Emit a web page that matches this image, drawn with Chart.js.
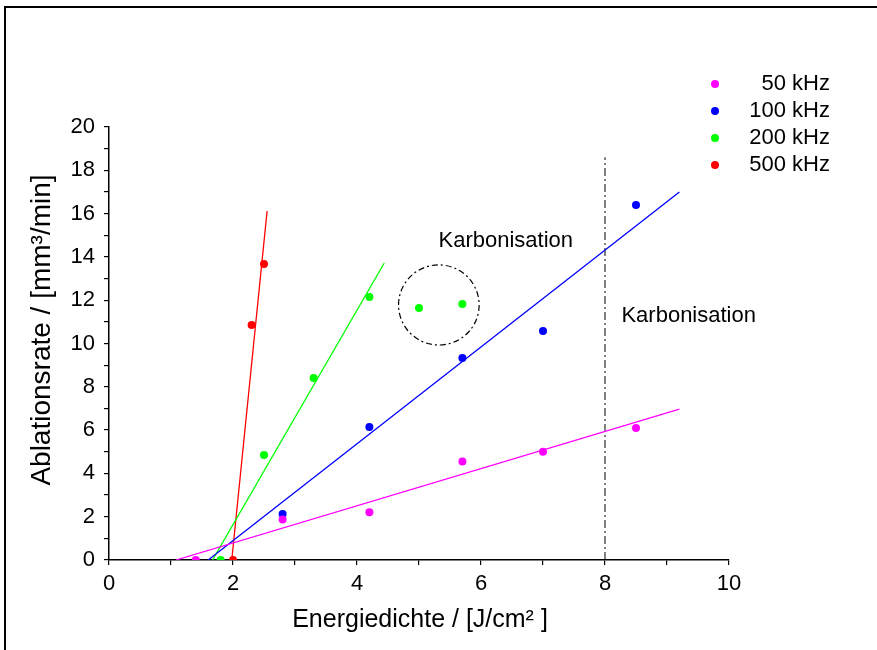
<!DOCTYPE html>
<html>
<head>
<meta charset="utf-8">
<script src="https://cdn.jsdelivr.net/npm/chart.js@4/dist/chart.umd.min.js"></script>
<style>
  html, body { margin: 0; padding: 0; background: #fff; overflow: hidden; }
  #wrap { position: relative; width: 877px; height: 650px; }
  #frame { position: absolute; left: 4px; top: 6px; width: 1000px; height: 1000px; border: 2px solid #000; box-sizing: border-box; pointer-events: none; }
  canvas { position: absolute; left: 0; top: 0; }
</style>
</head>
<body>
<div id="wrap">
  <canvas id="chart" width="877" height="650"></canvas>
  <div id="frame"></div>
</div>
<script>
// measured points, Energiedichte [J/cm2] vs Ablationsrate [mm3/min]
const series50 = [[1.4, 0], [2.8, 1.87], [4.2, 2.2], [5.7, 4.55], [7.0, 5.0], [8.5, 6.1]];
const series100 = [[2.8, 2.12], [4.2, 6.14], [5.7, 9.33], [7.0, 10.58], [8.5, 16.4]];
const series200 = [[1.8, 0], [2.5, 4.85], [3.3, 8.41], [4.2, 12.15], [5.0, 11.64], [5.7, 11.82]];
const series500 = [[2.0, 0], [2.3, 10.85], [2.5, 13.67]];

// linear fits (start / end)
const fit50 = [[1.08, 0], [9.2, 6.97]];
const fit100 = [[1.6, 0], [9.2, 17.0]];
const fit200 = [[1.67, 0], [4.44, 13.72]];
const fit500 = [[1.98, 0], [2.55, 16.12]];

const limitLine = [[8, 0], [8, 18.6]];
const circleCenter = [5.32, 11.78];
const circleRadius = [0.65, 1.85];

const legendLabels = ['50 kHz', '100 kHz', '200 kHz', '500 kHz'];
const colors = ['#ff00ff', '#0000ff', '#00ff00', '#ff0000'];
const notes = [
    { text: 'Karbonisation', x: 6.4, y: 14.73 },
    { text: 'Karbonisation', x: 9.35, y: 11.27 }
];

const xy = arr => arr.map(p => ({ x: p[0], y: p[1] }));

const pointSet = (data, color) => ({
    data: xy(data),
    showLine: false,
    pointRadius: 4,
    pointHoverRadius: 4,
    pointBackgroundColor: color,
    pointBorderWidth: 0,
    borderColor: color
});

const fitSet = (data, color) => ({
    data: xy(data),
    showLine: true,
    pointRadius: 0,
    borderColor: color,
    borderWidth: 1.3,
    fill: false
});

const FONT = 'Liberation Sans, Arial, sans-serif';

const extras = {
    id: 'extras',
    afterDraw(chart) {
        const ctx = chart.ctx;
        const xs = chart.scales.x, ys = chart.scales.y;
        ctx.save();

        // dash-dot circle around the carbonised points
        const cx = xs.getPixelForValue(circleCenter[0]);
        const cy = ys.getPixelForValue(circleCenter[1]);
        const rx = xs.getPixelForValue(circleCenter[0] + circleRadius[0]) - cx;
        const ry = cy - ys.getPixelForValue(circleCenter[1] + circleRadius[1]);
        ctx.beginPath();
        ctx.setLineDash([6, 3, 2, 3]);
        ctx.strokeStyle = '#000';
        ctx.lineWidth = 1.2;
        ctx.ellipse(cx, cy, rx, ry, 0, 0, Math.PI * 2);
        ctx.stroke();
        ctx.setLineDash([]);

        ctx.fillStyle = '#000';
        ctx.font = '22px ' + FONT;
        ctx.textAlign = 'center';
        ctx.textBaseline = 'middle';
        notes.forEach(n => {
            ctx.fillText(n.text, xs.getPixelForValue(n.x), ys.getPixelForValue(n.y));
        });

        // legend
        legendLabels.forEach((lab, i) => {
            const y = 84 + i * 27;
            ctx.beginPath();
            ctx.fillStyle = colors[i];
            ctx.arc(715, y, 4, 0, Math.PI * 2);
            ctx.fill();
            ctx.fillStyle = '#000';
            ctx.textAlign = 'right';
            ctx.fillText(lab, 830, y);
        });

        // axis titles
        ctx.textAlign = 'center';
        ctx.font = '25px ' + FONT;
        ctx.fillText('Energiedichte / [J/cm\u00B2 ]', 420, 620);
        ctx.translate(42, 330);
        ctx.rotate(-Math.PI / 2);
        ctx.font = '28px ' + FONT;
        ctx.fillText('Ablationsrate / [mm\u00B3/min]', 0, 0);
        ctx.restore();
    }
};

const axisCommon = {
    grid: { display: true, drawOnChartArea: false, drawTicks: true, tickLength: 5, color: '#000', lineWidth: 1.2 },
    border: { display: true, color: '#000', width: 1.5 },
    ticks: {
        color: '#000',
        font: { size: 22, family: FONT },
        autoSkip: false,
        stepSize: 1,
        callback: v => (v % 2 === 0 ? v : '')
    }
};

new Chart(document.getElementById('chart').getContext('2d'), {
    type: 'scatter',
    data: {
        datasets: [
            pointSet(series50, colors[0]),
            pointSet(series100, colors[1]),
            pointSet(series200, colors[2]),
            pointSet(series500, colors[3]),
            fitSet(fit50, colors[0]),
            fitSet(fit100, colors[1]),
            fitSet(fit200, colors[2]),
            fitSet(fit500, colors[3]),
            {
                data: xy(limitLine),
                showLine: true,
                pointRadius: 0,
                borderColor: '#000',
                borderWidth: 1,
                borderDash: [8, 3, 2, 3]
            }
        ]
    },
    options: {
        responsive: false,
        animation: false,
        devicePixelRatio: 1,
        layout: { padding: { top: 127, right: 148, left: 0, bottom: 0 } },
        plugins: { legend: { display: false }, tooltip: { enabled: false } },
        scales: {
            x: {
                ...axisCommon,
                type: 'linear',
                min: 0, max: 10,
                ticks: { ...axisCommon.ticks, padding: 6, maxRotation: 0 },
                afterFit: s => { s.height = 90; }
            },
            y: {
                ...axisCommon,
                type: 'linear',
                min: 0, max: 20,
                ticks: { ...axisCommon.ticks, padding: 9 },
                afterFit: s => { s.width = 109; }
            }
        }
    },
    plugins: [extras]
});
</script>
</body>
</html>
